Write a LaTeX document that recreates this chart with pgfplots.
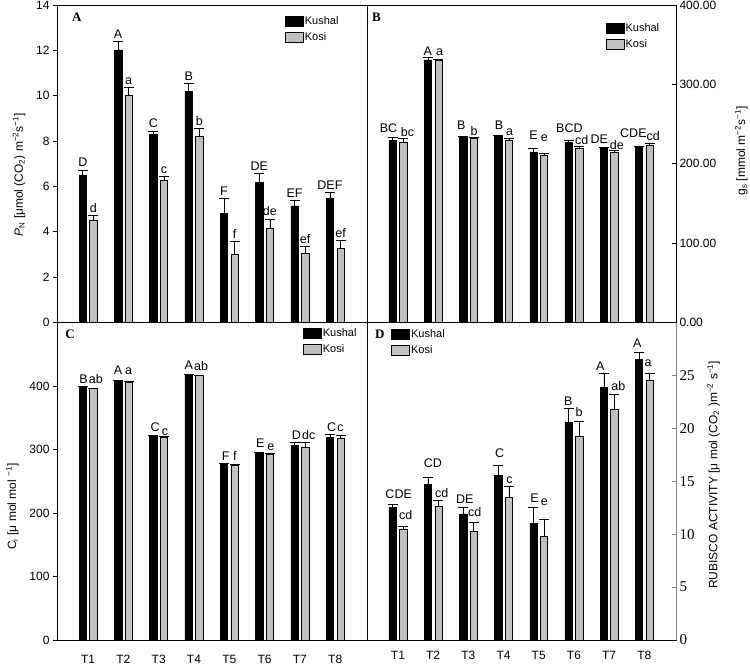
\documentclass[border=0pt]{standalone}
\usepackage{fontspec}
\setmainfont{Liberation Sans}
\newfontfamily\serif{Liberation Serif}
\usepackage{pgfplots}
\usepackage{pgfplotstable}
\pgfplotsset{compat=1.18}

\definecolor{kosigray}{RGB}{192,192,192}

\pgfplotstableread{
kx sx ky ke sy se
0.85 1.15 6.50 0.23 4.52 0.21
1.85 2.15 12.02 0.36 10.02 0.34
2.85 3.15 8.30 0.15 6.27 0.18
3.85 4.15 10.18 0.37 8.20 0.36
4.85 5.15 4.80 0.67 3.00 0.56
5.85 6.15 6.17 0.40 4.17 0.40
6.85 7.15 5.14 0.25 3.05 0.31
7.85 8.15 5.47 0.28 3.27 0.34
}\datA
\pgfplotstableread{
kx sx ky ke sy se
0.85 1.15 229 4 227 5
1.85 2.15 331 3 331 1
2.85 3.15 233.5 1.5 232 1.5
3.85 4.15 234.5 1 230 2
4.85 5.15 215 4 210.5 2.5
5.85 6.15 227 3 220 2
6.85 7.15 219 2 215 1.5
7.85 8.15 221 1.5 223 2.5
}\datB
\pgfplotstableread{
kx sx ky ke sy se
0.85 1.15 399 1 396 1
1.85 2.15 408 1 406 1
2.85 3.15 322 1 320 1
3.85 4.15 418 1 416.5 1
4.85 5.15 278 1 276 1
5.85 6.15 294 2 292 2
6.85 7.15 306 6 304 7
7.85 8.15 319 5 317 5
}\datC
\pgfplotstableread{
kx sx ky ke sy se
0.85 1.15 12.52 0.32 10.47 0.28
1.85 2.15 14.73 0.69 12.68 0.53
2.85 3.15 11.92 0.63 10.28 0.85
3.85 4.15 15.55 0.98 13.53 0.98
4.85 5.15 11.04 1.51 9.84 1.61
5.85 6.15 20.56 1.32 19.27 1.42
6.85 7.15 23.84 1.39 21.76 1.42
7.85 8.15 26.52 0.66 24.57 0.66
}\datD

\pgfplotstableread{
x y lab
0.85 6.86 D
1.15 4.86 d
1.85 12.51 A
2.15 10.49 a
2.85 8.58 C
3.15 6.58 c
3.85 10.68 B
4.15 8.69 b
4.85 5.60 F
5.15 3.69 f
5.85 6.70 DE
6.15 4.70 de
6.85 5.52 EF
7.15 3.49 ef
7.85 5.88 DEF
8.15 3.74 ef
}\labA
\pgfplotstableread{
x y lab
0.73 240 BC
1.27 234 bc
1.85 337 A
2.18 337 a
2.80 243 B
3.16 236 b
3.87 243 B
4.17 236 a
4.85 230 E
5.16 228 e
5.87 240 BCD
6.22 224 cd
6.72 225 DE
7.22 218 de
7.69 233 CDE
8.25 229 cd
}\labB
\pgfplotstableread{
x y lab
0.87 404 B
1.22 404 ab
1.85 418 A
2.15 418 a
2.90 329 C
3.18 322 c
3.85 426 A
4.20 425 ab
4.90 283 F
5.16 282 f
5.88 303 E
6.18 298 e
6.90 316 D
7.25 316 dc
7.90 329 C
8.15 329 c
}\labC
\pgfplotstableread{
x y lab
1.02 13.4 CDE
1.22 11.35 cd
1.99 16.3 CD
2.24 13.5 cd
2.90 12.9 DE
3.18 11.7 cd
3.89 17.2 C
4.17 14.8 c
4.88 13.0 E
5.16 12.7 e
5.84 22.2 B
6.15 21.1 b
6.75 25.5 A
7.26 23.6 ab
7.80 27.6 A
8.11 25.8 a
}\labD

\pgfplotsset{
  panel/.style={
    scale only axis, width=310pt, height=317.5pt,
    xmin=0.12, xmax=8.9,
    xtick={1,2,3,4,5,6,7,8},
    major x tick style={draw=none},
    ytick style={black, line width=0.6pt},
    major tick length=4pt,
    ticklabel style={font=\fontsize{12}{12}\selectfont},
    /pgf/number format/assume math mode=true,
    label style={font=\fontsize{12}{14}\selectfont},
    axis line style={line width=0.8pt},
    clip=false,
    legend cell align=left,
    legend style={draw=none, fill=none, inner sep=0pt, outer sep=0pt,
      row sep=3pt, anchor=north west,
      font=\fontsize{11}{11}\selectfont,
      nodes={inner sep=1.5pt}},
  },
  kushal/.style={ybar, bar width=0.21, bar shift=0, fill=black, draw=black,
    line width=0.5pt,
    legend image code/.code={\draw[fill=black,draw=black] (0pt,-5pt) rectangle (18pt,5pt);},
    error bars/.cd, y dir=plus, y explicit,
    error bar style={black, line width=0.6pt},
    error mark options={rotate=90, mark size=5pt, line width=0.6pt, black}},
  kosi/.style={ybar, bar width=0.21, bar shift=0, fill=kosigray, draw=black,
    line width=0.5pt,
    legend image code/.code={\draw[fill=kosigray,draw=black,line width=0.5pt] (0pt,-5pt) rectangle (18pt,5pt);},
    error bars/.cd, y dir=plus, y explicit,
    error bar style={black, line width=0.6pt},
    error mark options={rotate=90, mark size=5pt, line width=0.6pt, black}},
  labs/.style={forget plot, draw=none, mark=none,
    point meta=explicit symbolic, nodes near coords,
    nodes near coords style={anchor=base, inner sep=0pt,
      font=\fontsize{12.5}{12.5}\selectfont, text=black}},
}

\begin{document}
\begin{tikzpicture}
\useasboundingbox (0pt,0pt) rectangle (750pt,-665pt);

% Panel A
\begin{axis}[panel, at={(57pt,-322.5pt)}, anchor=south west,
  ymin=0, ymax=14, ytick={0,2,...,14}, ytick pos=left, tick align=outside,
  xticklabels={},
  ylabel={\textit{P}\textsubscript{N} [μmol (CO\textsubscript{2}) m\textsuperscript{−2}s\textsuperscript{−1}]},
  ylabel style={at={(ticklabel cs:0.465)}},
  ylabel shift=4pt,
  legend style={at={(0.735,0.968)}},
]
\addplot[kushal] table[x=kx, y=ky, y error=ke] {\datA};
\addplot[kosi] table[x=sx, y=sy, y error=se] {\datA};
\addplot[labs] table[x=x, y=y, meta=lab] {\labA};
\legend{Kushal, Kosi}
\node[anchor=north west, font=\serif\bfseries\fontsize{13}{13}\selectfont, inner sep=0pt] at (rel axis cs:0.048,0.975) {A};
\end{axis}

% Panel B
\begin{axis}[panel, at={(367pt,-322.5pt)}, anchor=south west,
  width=309pt,
  ymin=0, ymax=400, ytick={0,100,...,400}, ytick pos=right, yticklabel pos=right,
  tick align=inside,
  yticklabel style={/pgf/number format/.cd, fixed, fixed zerofill, precision=2},
  xticklabels={},
  ylabel={g\textsubscript{s} [mmol m\textsuperscript{−2}s\textsuperscript{−1}]},
  ylabel style={at={(ticklabel cs:0.54)}},
  ylabel shift=12pt,
  legend style={at={(0.772,0.945)}},
]
\addplot[kushal] table[x=kx, y=ky, y error=ke] {\datB};
\addplot[kosi] table[x=sx, y=sy, y error=se] {\datB};
\addplot[labs] table[x=x, y=y, meta=lab] {\labB};
\legend{Kushal, Kosi}
\node[anchor=north west, font=\serif\bfseries\fontsize{13}{13}\selectfont, inner sep=0pt] at (rel axis cs:0.016,0.975) {B};
\end{axis}

% Panel C
\begin{axis}[panel, at={(57pt,-640pt)}, anchor=south west,
  ymin=0, ymax=500, ytick={0,100,...,400}, ytick pos=left, tick align=outside,
  xticklabels={T1,T2,T3,T4,T5,T6,T7,T8},
  xticklabel style={yshift=-11pt, inner sep=0pt},
  ylabel={C\textsubscript{i} [μ mol mol \textsuperscript{−1}]},
  ylabel style={at={(ticklabel cs:0.42)}},
  ylabel shift=4pt,
  legend style={at={(0.793,0.985)}},
]
\addplot[kushal] table[x=kx, y=ky, y error=ke] {\datC};
\addplot[kosi] table[x=sx, y=sy, y error=se] {\datC};
\addplot[labs] table[x=x, y=y, meta=lab] {\labC};
\legend{Kushal, Kosi}
\node[anchor=north west, font=\serif\bfseries\fontsize{13}{13}\selectfont, inner sep=0pt] at (rel axis cs:0.026,0.978) {C};
\end{axis}

% Panel D
\begin{axis}[panel, at={(367pt,-640pt)}, anchor=south west,
  width=309pt,
  ymin=0, ymax=30, ytick={0,5,...,25}, ytick pos=right, yticklabel pos=right,
  tick align=inside,
  ytick style={gray, line width=0.6pt},
  yticklabel style={font=\serif\fontsize{15}{15}\selectfont},
  xticklabels={T1,T2,T3,T4,T5,T6,T7,T8},
  xticklabel style={yshift=-11pt, inner sep=0pt},
  ylabel={RUBISCO ACTIVITY [μ mol (CO\textsubscript{2} )m\textsuperscript{−2} s\textsuperscript{−1}]},
  ylabel style={at={(ticklabel cs:0.52)}},
  ylabel shift=6pt,
  legend style={at={(0.078,0.982)}},
]
\addplot[kushal] table[x=kx, y=ky, y error=ke] {\datD};
\addplot[kosi] table[x=sx, y=sy, y error=se] {\datD};
\addplot[labs] table[x=x, y=y, meta=lab] {\labD};
\legend{Kushal, Kosi}
\draw[gray, line width=0.9pt] (rel axis cs:1,0) -- (rel axis cs:1,1);
\node[anchor=north west, font=\serif\bfseries\fontsize{13}{13}\selectfont, inner sep=0pt] at (rel axis cs:0.026,0.978) {D};
\end{axis}
\end{tikzpicture}
\end{document}
